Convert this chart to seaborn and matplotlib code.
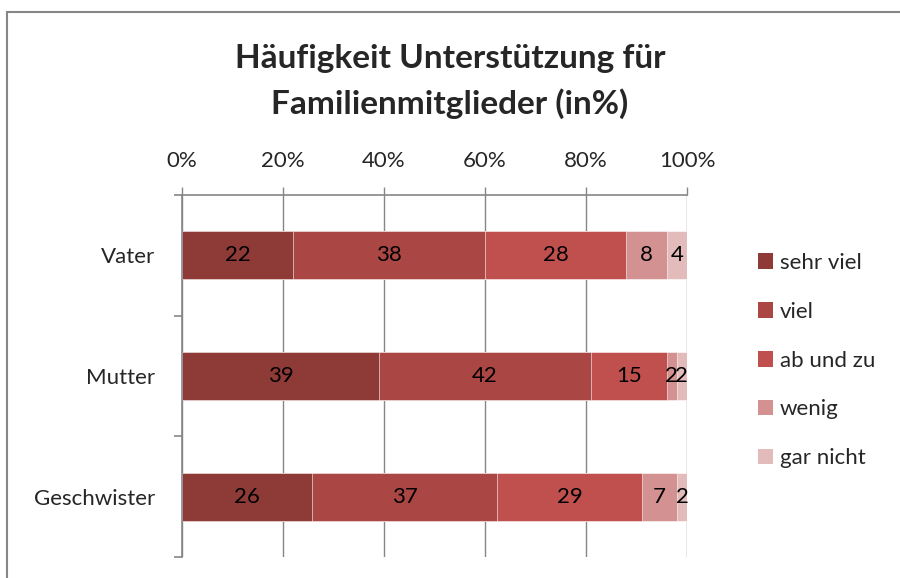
import numpy as np
import pandas as pd
import matplotlib
matplotlib.use("Agg")
import matplotlib.pyplot as plt
from matplotlib.patches import Patch, Rectangle
import seaborn as sns

# Daten
gruppen = ["Vater", "Mutter", "Geschwister"]
stufen = ["sehr viel", "viel", "ab und zu", "wenig", "gar nicht"]
sehr_viel = [22, 39, 26]
viel = [38, 42, 37]
ab_und_zu = [28, 15, 29]
wenig = [8, 2, 7]
gar_nicht = [4, 2, 2]
farben = ["#8E3B38", "#AA4643", "#C0504D", "#D39291", "#E3BBBB"]

werte = np.array([sehr_viel, viel, ab_und_zu, wenig, gar_nicht], dtype=float)
anteile = werte / werte.sum(axis=0) * 100
kumuliert = anteile.cumsum(axis=0)

sns.set_theme(style="white")
plt.rcParams["font.family"] = ["Lato", "DejaVu Sans"]
grau = "#868686"

fig = plt.figure(figsize=(9, 5.78), dpi=100)
ax = fig.add_axes([0.2022, 0.0363, 0.5611, 0.6263])

# gestapelte Balken: von hinten (Summe) nach vorne zeichnen
for i in range(len(stufen) - 1, -1, -1):
    df = pd.DataFrame({"gruppe": gruppen, "wert": kumuliert[i]})
    sns.barplot(data=df, x="wert", y="gruppe", order=gruppen, orient="h",
                color=farben[i], width=0.4, saturation=1,
                edgecolor="white", linewidth=0.4, ax=ax)

# Beschriftungen in den Segmenten
for i in range(len(stufen)):
    for j in range(len(gruppen)):
        mitte = kumuliert[i, j] - anteile[i, j] / 2
        ax.text(mitte, j, f"{int(werte[i, j])}", ha="center", va="center",
                fontsize=16, color="black")

ax.set_xlim(0, 100)
ax.set_ylim(2.5, -0.5)
ax.set_xticks(np.arange(0, 101, 20))
ax.set_xticklabels([f"{v}%" for v in range(0, 101, 20)])
ax.xaxis.tick_top()
ax.tick_params(axis="x", which="major", top=True, length=6, width=1,
               color=grau, labelsize=16, pad=11)
ax.set_yticks(range(len(gruppen)))
ax.set_yticklabels(gruppen)
ax.set_yticks([-0.5, 0.5, 1.5, 2.5], minor=True)
ax.tick_params(axis="y", which="major", left=False, labelsize=16, pad=13)
ax.tick_params(axis="y", which="minor", left=True, length=6, width=1.2, color=grau)
ax.grid(axis="x", color=grau, linewidth=1)
ax.set_axisbelow(True)
ax.set_xlabel("")
ax.set_ylabel("")
for s in ["right", "bottom"]:
    ax.spines[s].set_visible(False)
for s in ["top", "left"]:
    ax.spines[s].set_color(grau)
    ax.spines[s].set_linewidth(1.2)

# Legende
griffe = [Patch(facecolor=f, edgecolor="none", label=s) for f, s in zip(farben, stufen)]
fig.legend(handles=griffe, loc="upper left", bbox_to_anchor=(0.832, 0.578),
           frameon=False, fontsize=16, handlelength=0.7, handleheight=0.7,
           handletextpad=0.3, labelspacing=1.3, borderaxespad=0)

# Titel
fig.text(0.5, 0.898, "Häufigkeit Unterstützung für", ha="center", va="center",
         fontsize=24, fontweight="bold")
fig.text(0.5, 0.82, "Familienmitglieder (in%)", ha="center", va="center",
         fontsize=24, fontweight="bold")

# Rahmen des Diagrammbereichs
fig.patches.append(Rectangle((7 / 900, -0.1), 1.2, 1.1 - 12 / 578,
                             transform=fig.transFigure, fill=False,
                             edgecolor=grau, linewidth=1.5))

fig.savefig("out.png", dpi=100)
